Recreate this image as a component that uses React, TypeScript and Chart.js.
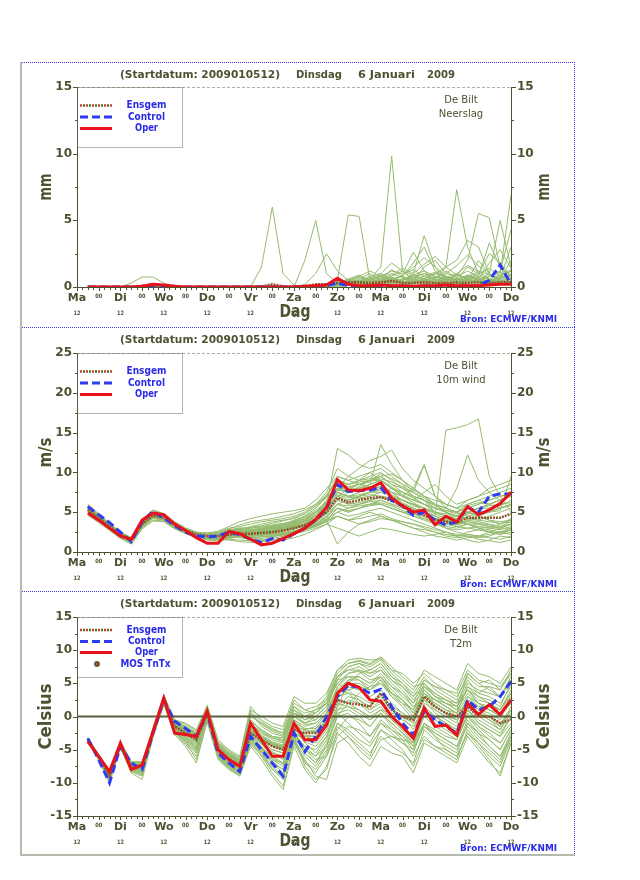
import React, { useEffect, useRef } from "react";
import { Chart, registerables } from "chart.js";

Chart.register(...registerables);

// ---------------- data ----------------
const HOURS = [6, 12, 18, 24, 30, 36, 42, 48, 54, 60, 66, 72, 78, 84, 90, 96, 102, 108, 114, 120, 126, 132, 138, 144, 150, 156, 162, 168, 174, 180, 186, 192, 198, 204, 210, 216, 222, 228, 234, 240];
const DAY_NAMES = ["Ma", "Di", "Wo", "Do", "Vr", "Za", "Zo", "Ma", "Di", "Wo", "Do"];
const TITLE_PARTS = ["(Startdatum: 2009010512)", "Dinsdag", "6 Januari", "2009"];
const SOURCE = "Bron: ECMWF/KNMI";
const X_TITLE = "Dag";
const LEGEND_LABELS = ["Ensgem", "Control", "Oper"];
const MOS_LABEL = "MOS TnTx";

const PRECIP_TICKS = [0, 5, 10, 15];
const WIND_TICKS = [0, 5, 10, 15, 20, 25];
const T2M_TICKS = [-15, -10, -5, 0, 5, 10, 15];

const PRECIP_OPER = [0, 0, 0, 0, 0, 0.05, 0.2, 0.15, 0.05, 0, 0, 0, 0, 0, 0, 0, 0, 0, 0, 0, 0.05, 0.1, 0.15, 0.65, 0.2, 0.1, 0.1, 0.15, 0.1, 0.1, 0.05, 0.1, 0.1, 0.15, 0.1, 0.1, 0.1, 0.15, 0.2, 0.2];
const PRECIP_CONTROL = [0, 0, 0, 0, 0, 0.05, 0.15, 0.1, 0.05, 0, 0, 0, 0, 0, 0, 0, 0, 0, 0, 0, 0, 0.05, 0.1, 0.3, 0.1, 0.05, 0.05, 0.1, 0.05, 0.05, 0, 0.05, 0.05, 0.05, 0.05, 0.1, 0.1, 0.5, 1.65, 0.2];
const PRECIP_ENSGEM = [0, 0, 0, 0, 0.02, 0.08, 0.12, 0.1, 0.03, 0, 0, 0, 0, 0, 0, 0, 0.05, 0.2, 0.05, 0, 0.05, 0.2, 0.2, 0.3, 0.35, 0.35, 0.3, 0.35, 0.45, 0.3, 0.3, 0.35, 0.3, 0.3, 0.35, 0.3, 0.35, 0.3, 0.35, 0.35];
const PRECIP_MEMBERS = [
  [0, 0, 0, 0, 0, 0, 0, 0, 0, 0, 0, 0, 0, 0, 0, 0, 1.5, 6.0, 1.0, 0.15, 0, 0.1, 0.2, 0.3, 0.2, 0.1, 0.3, 0.5, 0.2, 0.1, 0.3, 0.6, 0.2, 0.1, 0.2, 0.4, 0.3, 0.1, 0.2, 0.5],
  [0, 0, 0, 0, 0, 0, 0, 0, 0, 0, 0, 0, 0, 0, 0, 0, 0, 0, 0, 0, 2.0, 5.0, 1.0, 0.3, 0.5, 0.2, 0.1, 0.3, 0.6, 0.8, 0.4, 0.2, 0.1, 0.5, 1.0, 0.6, 0.3, 0.2, 0.4, 0.3],
  [0, 0, 0, 0, 0, 0, 0, 0, 0, 0, 0, 0, 0, 0, 0, 0, 0, 0, 0, 0, 0, 0.1, 0.2, 0.5, 5.4, 5.3, 0.5, 0.2, 0.4, 0.3, 0.1, 0.2, 0.5, 0.8, 0.3, 0.2, 0.1, 0.3, 0.5, 0.2],
  [0, 0, 0, 0, 0, 0, 0, 0, 0, 0, 0, 0, 0, 0, 0, 0, 0, 0, 0, 0, 0, 0, 0.1, 0.2, 0.3, 0.4, 0.6, 1.5, 9.8, 1.2, 0.5, 0.3, 0.8, 0.4, 0.2, 0.3, 0.6, 0.4, 0.2, 0.3],
  [0, 0, 0, 0, 0, 0, 0, 0, 0, 0, 0, 0, 0, 0, 0, 0, 0, 0, 0, 0, 0, 0, 0, 0.1, 0.2, 0.3, 0.2, 0.4, 0.3, 0.5, 0.8, 1.0, 0.6, 1.5, 7.3, 3.0, 1.0, 0.5, 0.3, 0.6],
  [0, 0, 0, 0, 0, 0, 0, 0, 0, 0, 0, 0, 0, 0, 0, 0, 0, 0, 0, 0, 0, 0, 0, 0.2, 0.3, 0.2, 0.5, 0.3, 0.6, 0.4, 0.3, 0.5, 0.8, 0.6, 0.8, 2.0, 5.5, 5.2, 1.5, 0.5],
  [0, 0, 0, 0, 0, 0, 0, 0, 0, 0, 0, 0, 0, 0, 0, 0, 0, 0, 0, 0, 0, 0, 0.1, 0.3, 0.2, 0.5, 0.4, 0.2, 0.3, 0.6, 0.4, 0.3, 0.2, 0.4, 0.6, 0.8, 0.5, 1.0, 5.0, 1.5],
  [0, 0, 0, 0, 0, 0, 0, 0, 0, 0, 0, 0, 0, 0, 0, 0, 0, 0, 0, 0, 0, 0, 0, 0.1, 0.3, 0.2, 0.1, 0.3, 0.5, 0.3, 0.2, 0.6, 0.4, 0.2, 0.3, 0.5, 0.4, 0.3, 1.0, 6.9],
  [0, 0, 0, 0, 0, 0, 0, 0, 0, 0, 0, 0, 0, 0, 0, 0, 0, 0, 0, 0, 0, 0.1, 0.2, 0.4, 0.3, 0.2, 0.5, 0.8, 0.6, 0.5, 1.0, 3.85, 1.5, 0.6, 0.3, 0.5, 0.8, 0.6, 0.4, 0.3],
  [0, 0, 0, 0, 0, 0, 0, 0, 0, 0, 0, 0, 0, 0, 0, 0, 0, 0, 0, 0, 0.2, 1.0, 2.5, 1.2, 0.5, 0.3, 0.2, 0.4, 0.3, 0.2, 0.5, 0.3, 0.6, 0.4, 0.2, 0.3, 0.5, 0.2, 0.4, 0.6],
  [0, 0, 0, 0, 0, 0, 0, 0, 0, 0, 0, 0, 0, 0, 0, 0, 0, 0, 0, 0, 0, 0, 0, 0.2, 0.4, 0.3, 0.6, 0.8, 1.2, 1.0, 2.6, 1.2, 0.8, 0.5, 0.6, 0.4, 0.3, 0.6, 0.5, 0.4],
  [0, 0, 0, 0, 0.3, 0.75, 0.75, 0.3, 0, 0, 0, 0, 0, 0, 0, 0, 0, 0, 0, 0, 0, 0, 0, 0.2, 0.3, 0.5, 0.3, 0.6, 0.5, 0.4, 0.3, 0.5, 0.4, 0.8, 0.6, 1.5, 1.0, 2.5, 1.8, 0.8],
  [0, 0, 0, 0, 0, 0, 0, 0, 0, 0, 0, 0, 0, 0, 0, 0, 0, 0, 0, 0, 0, 0, 0, 0.1, 0.2, 0.4, 0.8, 1.0, 0.6, 0.8, 1.8, 3.0, 1.2, 0.8, 0.5, 0.6, 0.4, 0.8, 1.2, 4.3],
  [0, 0, 0, 0, 0, 0, 0, 0, 0, 0, 0, 0, 0, 0, 0, 0, 0, 0, 0, 0, 0, 0, 0, 0.1, 0.3, 0.6, 1.0, 0.5, 0.8, 1.2, 0.9, 0.6, 1.0, 1.5, 2.0, 3.5, 3.0, 1.0, 0.6, 3.0],
  [0, 0, 0, 0, 0, 0, 0, 0, 0, 0, 0, 0, 0, 0, 0, 0, 0, 0, 0, 0, 0, 0, 0.1, 0.3, 0.5, 0.8, 0.4, 0.6, 1.3, 0.8, 0.5, 1.5, 2.0, 1.0, 0.8, 1.2, 0.8, 3.3, 1.5, 0.8],
  [0, 0, 0, 0, 0, 0, 0, 0, 0, 0, 0, 0, 0, 0, 0, 0, 0, 0, 0, 0, 0, 0, 0, 0.2, 0.6, 0.9, 0.5, 0.3, 0.5, 0.9, 1.3, 0.8, 0.5, 0.3, 0.4, 0.7, 1.2, 0.9, 0.5, 1.0],
  [0, 0, 0, 0, 0, 0, 0, 0, 0, 0, 0, 0, 0, 0, 0, 0, 0, 0, 0, 0, 0, 0, 0, 0, 0.1, 0.3, 0.6, 0.8, 1.0, 0.7, 0.4, 0.6, 1.0, 0.7, 0.5, 0.8, 0.6, 0.4, 0.8, 1.2],
  [0, 0, 0, 0, 0, 0, 0, 0, 0, 0, 0, 0, 0, 0, 0, 0, 0, 0, 0, 0, 0, 0, 0, 0.1, 0.2, 0.2, 0.3, 0.5, 0.3, 0.6, 0.4, 0.8, 0.6, 1.2, 0.7, 0.5, 2.0, 1.0, 0.5, 0.4],
  [0, 0, 0, 0, 0, 0, 0, 0, 0, 0, 0, 0, 0, 0, 0, 0, 0, 0, 0, 0, 0, 0, 0, 0.1, 0.4, 0.3, 0.2, 0.4, 0.7, 0.5, 0.9, 1.2, 0.5, 0.4, 0.9, 0.6, 0.3, 0.5, 0.7, 0.9],
  [0, 0, 0, 0, 0, 0, 0, 0, 0, 0, 0, 0, 0, 0, 0, 0, 0, 0, 0, 0, 0, 0, 0, 0.2, 0.3, 0.4, 0.5, 0.7, 0.4, 0.3, 0.6, 0.4, 0.3, 0.6, 0.5, 0.9, 0.7, 0.4, 0.6, 2.0],
  [0, 0, 0, 0, 0, 0, 0, 0, 0, 0, 0, 0, 0, 0, 0, 0, 0, 0, 0, 0, 0, 0, 0.1, 0.2, 0.5, 0.8, 1.2, 0.8, 0.5, 0.9, 1.5, 2.2, 1.5, 0.8, 0.5, 0.6, 1.0, 1.4, 0.8, 0.5],
  [0, 0, 0, 0, 0, 0, 0, 0, 0, 0, 0, 0, 0, 0, 0, 0, 0, 0, 0, 0, 0, 0.05, 0.2, 0.4, 0.3, 0.5, 0.7, 1.0, 1.8, 1.2, 0.6, 0.8, 1.1, 0.7, 1.0, 1.6, 1.2, 0.6, 0.9, 1.3],
  [0, 0, 0, 0, 0, 0, 0, 0, 0, 0, 0, 0, 0, 0, 0, 0, 0, 0, 0, 0, 0, 0, 0, 0.1, 0.3, 0.2, 0.4, 0.6, 0.9, 1.4, 1.0, 1.7, 2.3, 1.5, 0.9, 0.7, 0.5, 0.8, 1.1, 0.7],
  [0, 0, 0, 0, 0, 0, 0, 0, 0, 0, 0, 0, 0, 0, 0, 0, 0, 0, 0, 0, 0, 0, 0.1, 0.3, 0.6, 0.4, 0.3, 0.5, 0.4, 0.6, 0.8, 0.5, 0.7, 1.0, 1.6, 2.4, 1.6, 0.9, 0.6, 1.2],
  [0, 0, 0, 0, 0, 0, 0, 0, 0, 0, 0, 0, 0, 0, 0, 0, 0, 0, 0, 0, 0, 0, 0, 0.2, 0.4, 0.7, 0.5, 0.9, 0.7, 0.5, 0.7, 1.0, 0.8, 0.6, 0.5, 0.9, 0.6, 1.8, 2.8, 1.4],
  [0, 0, 0, 0, 0, 0, 0, 0, 0, 0, 0, 0, 0, 0, 0, 0, 0, 0, 0, 0, 0, 0, 0.05, 0.15, 0.2, 0.3, 0.2, 0.3, 0.5, 0.4, 0.3, 0.5, 0.3, 0.4, 0.6, 0.4, 0.5, 0.3, 0.5, 0.6],
];

const WIND_OPER = [4.9, 4.0, 3.0, 2.0, 1.6, 4.0, 4.9, 4.7, 3.5, 2.7, 1.8, 1.1, 1.1, 2.6, 2.3, 1.6, 0.9, 1.1, 1.7, 2.3, 3.0, 4.1, 5.6, 9.1, 7.8, 7.7, 8.0, 8.7, 6.8, 5.8, 5.0, 5.3, 3.4, 4.5, 3.8, 5.7, 4.7, 5.3, 6.1, 7.5];
const WIND_CONTROL = [5.7, 4.7, 3.7, 2.5, 1.3, 3.8, 5.1, 4.3, 3.3, 2.5, 2.0, 1.9, 2.0, 2.5, 2.2, 1.6, 1.2, 1.7, 1.5, 2.3, 3.0, 4.0, 5.5, 8.5, 7.6, 7.7, 7.8, 8.1, 6.5, 5.8, 4.6, 5.0, 4.0, 3.4, 3.8, 5.6, 5.0, 7.0, 7.3, 7.3];
const WIND_ENSGEM = [5.3, 4.3, 3.2, 2.2, 1.5, 3.5, 4.6, 4.3, 3.4, 2.7, 2.2, 2.0, 2.0, 2.2, 2.3, 2.3, 2.4, 2.5, 2.7, 3.0, 3.4, 4.0, 5.0, 6.8, 6.2, 6.5, 6.8, 6.9, 6.4, 5.8, 5.2, 4.6, 4.1, 3.8, 3.7, 4.3, 4.3, 4.3, 4.3, 4.8];
const WIND_MEMBERS = [
  [5.5, 4.5, 3.3, 2.3, 1.6, 3.7, 4.8, 4.5, 3.5, 2.8, 2.3, 2.0, 2.2, 2.5, 2.6, 2.5, 2.6, 2.8, 3.0, 3.5, 4.0, 5.0, 6.5, 8.5, 7.8, 8.0, 8.2, 8.5, 7.5, 6.5, 5.8, 5.5, 4.5, 4.0, 4.2, 5.0, 5.5, 5.5, 5.8, 6.5],
  [5.0, 4.0, 3.0, 2.0, 1.3, 3.2, 4.3, 4.1, 3.2, 2.5, 2.0, 1.8, 1.6, 1.5, 1.3, 1.2, 1.3, 1.5, 1.8, 2.2, 2.8, 3.5, 4.5, 6.0, 5.5, 5.8, 6.0, 6.0, 5.5, 5.0, 4.5, 4.0, 3.5, 3.0, 2.8, 3.0, 3.2, 3.0, 2.8, 3.2],
  [6.0, 4.8, 3.6, 2.5, 1.8, 4.0, 5.2, 4.8, 3.8, 3.0, 2.5, 2.3, 2.5, 3.0, 3.2, 3.5, 3.8, 4.0, 4.2, 4.5, 5.0, 6.0, 7.5, 10.5, 9.5, 9.0, 9.5, 10.0, 9.0, 8.0, 7.0, 6.5, 5.5, 5.0, 4.5, 5.5, 6.0, 6.5, 7.0, 7.5],
  [5.2, 4.2, 3.1, 2.1, 1.5, 3.4, 4.5, 4.2, 3.3, 2.6, 2.1, 1.9, 1.8, 2.0, 2.0, 1.8, 1.5, 1.2, 1.5, 1.8, 2.2, 2.8, 3.5, 4.5, 4.0, 4.5, 5.0, 4.5, 4.0, 3.5, 3.0, 2.8, 2.5, 2.2, 2.0, 2.5, 2.8, 2.5, 2.2, 2.8],
  [5.8, 4.6, 3.5, 2.4, 1.7, 3.8, 5.0, 4.6, 3.6, 2.9, 2.4, 2.1, 2.3, 2.8, 3.0, 2.8, 2.9, 3.2, 3.5, 4.0, 4.5, 5.5, 7.0, 9.0, 8.5, 9.0, 9.2, 9.5, 8.5, 7.5, 7.0, 6.5, 5.8, 5.2, 5.0, 5.8, 6.2, 6.0, 6.5, 7.0],
  [4.8, 3.8, 2.8, 1.8, 1.0, 3.0, 4.0, 3.9, 3.0, 2.4, 1.9, 1.6, 1.5, 1.8, 2.2, 2.5, 2.8, 3.0, 3.2, 3.5, 3.8, 4.2, 5.0, 6.5, 6.0, 6.2, 6.5, 6.8, 6.5, 6.0, 5.5, 5.0, 4.5, 4.0, 3.5, 3.8, 3.5, 3.2, 3.0, 3.5],
  [5.4, 4.4, 3.2, 2.2, 1.4, 3.6, 4.7, 4.4, 3.4, 2.7, 2.2, 2.0, 2.0, 2.3, 2.5, 2.3, 2.2, 2.4, 2.6, 3.0, 3.5, 4.5, 6.0, 13.0, 12.2, 11.0, 10.5, 11.0, 10.0, 9.0, 8.0, 7.0, 6.0, 5.5, 5.0, 6.0, 6.5, 6.0, 5.5, 6.0],
  [5.6, 4.5, 3.4, 2.3, 1.7, 3.7, 4.8, 4.5, 3.5, 2.8, 2.3, 2.1, 2.1, 2.5, 2.8, 3.2, 3.5, 3.8, 4.0, 4.2, 4.8, 5.8, 6.8, 8.0, 9.5, 10.5, 11.5, 12.0, 12.8, 10.5, 9.0, 8.0, 7.0, 6.0, 5.5, 6.5, 7.0, 7.5, 8.0, 8.5],
  [5.1, 4.1, 3.0, 2.0, 1.3, 3.3, 4.4, 4.2, 3.3, 2.6, 2.1, 1.9, 1.9, 2.1, 2.1, 2.0, 2.1, 2.2, 2.4, 2.7, 3.0, 3.5, 4.2, 5.0, 4.5, 4.8, 5.2, 5.5, 5.0, 4.5, 4.0, 3.5, 3.0, 2.5, 2.0, 2.2, 2.0, 1.8, 1.6, 2.0],
  [5.3, 4.3, 3.2, 2.2, 1.5, 3.5, 4.6, 4.3, 3.4, 2.7, 2.2, 2.0, 2.0, 2.2, 2.3, 2.2, 2.4, 2.6, 2.8, 3.2, 3.6, 4.2, 5.2, 7.0, 6.5, 7.0, 7.5, 7.8, 7.0, 6.5, 6.0, 5.0, 4.5, 15.3, 15.6, 16.0, 16.7, 9.5, 7.0, 5.0],
  [5.0, 4.1, 3.1, 2.1, 1.4, 3.3, 4.4, 4.0, 3.1, 2.4, 2.0, 1.7, 1.7, 1.9, 1.8, 1.6, 1.7, 1.9, 2.2, 2.5, 3.0, 3.8, 5.0, 7.5, 7.0, 7.5, 8.5, 13.5, 11.0, 9.0, 7.5, 6.5, 5.0, 4.5, 4.5, 5.0, 4.5, 4.0, 3.5, 4.0],
  [5.7, 4.6, 3.5, 2.4, 1.7, 3.9, 5.0, 4.6, 3.6, 2.9, 2.4, 2.2, 2.3, 2.6, 2.9, 3.0, 3.2, 3.4, 3.6, 3.8, 4.2, 5.0, 6.0, 8.0, 7.5, 7.8, 8.0, 8.2, 7.5, 7.0, 8.0, 11.0, 7.0, 5.5, 8.0, 12.2, 9.0, 7.5, 6.5, 7.0],
  [5.2, 4.2, 3.1, 2.1, 1.5, 3.4, 4.5, 4.2, 3.3, 2.6, 2.1, 1.9, 1.9, 2.1, 2.2, 2.1, 2.0, 2.0, 2.1, 2.3, 2.6, 3.0, 3.5, 3.0, 2.5, 2.0, 2.5, 3.0, 2.8, 2.5, 2.2, 2.0, 2.2, 2.5, 2.0, 1.5, 1.2, 1.5, 2.0, 1.8],
  [5.5, 4.4, 3.3, 2.3, 1.6, 3.6, 4.7, 4.4, 3.5, 2.8, 2.3, 2.1, 2.1, 2.4, 2.6, 2.5, 2.7, 3.0, 3.3, 3.6, 4.0, 4.8, 6.0, 7.5, 7.0, 7.2, 7.5, 7.5, 7.0, 6.2, 5.5, 5.0, 4.2, 3.8, 3.5, 4.0, 3.8, 3.5, 3.2, 3.8],
  [4.6, 3.7, 2.7, 1.7, 1.0, 2.9, 3.9, 3.8, 2.9, 2.3, 1.8, 1.5, 1.4, 1.6, 1.5, 1.4, 1.5, 1.7, 2.0, 2.4, 2.8, 3.3, 4.0, 5.5, 5.0, 5.5, 6.0, 6.2, 5.8, 5.2, 4.8, 4.2, 3.6, 3.2, 3.0, 3.5, 3.5, 3.2, 3.0, 3.0],
  [5.9, 4.7, 3.6, 2.5, 1.8, 4.0, 5.3, 4.8, 3.8, 3.0, 2.5, 2.4, 2.6, 3.2, 3.8, 4.2, 4.5, 4.8, 5.0, 5.2, 5.5, 6.5, 8.0, 9.5, 9.0, 8.5, 9.0, 9.0, 8.0, 7.5, 6.8, 6.0, 5.5, 5.2, 4.8, 5.0, 5.5, 5.8, 6.0, 6.2],
  [5.3, 4.3, 3.2, 2.2, 1.5, 3.5, 4.6, 4.3, 3.4, 2.7, 2.2, 2.0, 2.0, 2.2, 2.4, 2.3, 2.3, 2.5, 2.7, 3.0, 3.3, 3.8, 4.5, 5.5, 5.0, 5.5, 6.0, 6.5, 6.0, 5.5, 5.0, 4.5, 3.8, 3.5, 3.2, 3.5, 3.0, 2.5, 2.2, 2.5],
  [5.4, 4.3, 3.3, 2.2, 1.6, 3.5, 4.6, 4.4, 3.4, 2.8, 2.3, 2.0, 2.1, 2.3, 2.4, 2.4, 2.5, 2.7, 2.9, 3.3, 3.8, 4.5, 5.5, 7.8, 7.5, 8.0, 8.5, 9.0, 8.0, 7.0, 6.5, 6.0, 5.0, 4.5, 4.2, 4.8, 5.0, 5.2, 5.5, 5.8],
  [5.0, 4.0, 2.9, 1.9, 1.2, 3.1, 4.2, 4.0, 3.1, 2.5, 2.0, 1.7, 1.8, 2.0, 2.0, 1.9, 1.9, 2.0, 2.2, 2.5, 2.8, 3.2, 3.8, 4.5, 4.0, 4.2, 4.5, 4.8, 4.2, 3.8, 3.5, 3.0, 2.5, 2.0, 1.8, 2.0, 1.6, 1.4, 1.2, 1.5],
  [5.6, 4.5, 3.4, 2.3, 1.6, 3.7, 4.8, 4.5, 3.5, 2.8, 2.3, 2.1, 2.2, 2.4, 2.7, 2.8, 3.0, 3.2, 3.4, 3.7, 4.2, 5.0, 6.2, 8.5, 8.0, 8.5, 8.8, 9.5, 8.5, 8.0, 7.5, 6.8, 6.0, 5.5, 5.0, 5.5, 6.0, 6.5, 7.0, 7.2],
  [5.2, 4.1, 3.1, 2.1, 1.4, 3.4, 4.5, 4.2, 3.3, 2.6, 2.1, 1.9, 1.9, 2.1, 2.2, 2.3, 2.5, 2.6, 2.7, 2.9, 3.2, 3.6, 4.3, 6.0, 5.8, 6.0, 6.3, 6.5, 6.0, 5.5, 5.2, 4.8, 4.0, 3.6, 3.4, 3.8, 3.6, 3.4, 3.2, 3.5],
  [5.5, 4.4, 3.3, 2.3, 1.6, 3.6, 4.7, 4.4, 3.4, 2.7, 2.2, 2.0, 2.0, 2.2, 2.3, 2.2, 2.3, 2.4, 2.6, 2.9, 3.4, 4.2, 5.5, 7.2, 6.8, 7.0, 7.2, 7.0, 6.5, 6.0, 5.5, 5.0, 4.2, 4.0, 3.8, 4.5, 4.8, 5.0, 5.2, 9.5],
  [5.1, 4.1, 3.0, 2.0, 1.3, 3.2, 4.3, 4.1, 3.2, 2.6, 2.1, 1.8, 1.8, 2.0, 2.1, 2.0, 2.2, 2.3, 2.4, 2.6, 2.9, 3.3, 4.0, 1.0, 2.5, 3.5, 4.0, 4.5, 4.0, 3.5, 3.0, 2.5, 2.0, 1.8, 1.5, 1.8, 2.0, 2.2, 2.5, 2.8],
  [5.7, 4.6, 3.5, 2.4, 1.7, 3.8, 5.0, 4.6, 3.6, 2.9, 2.4, 2.2, 2.3, 2.7, 3.0, 3.1, 3.3, 3.6, 3.9, 4.3, 4.8, 5.8, 7.2, 9.0, 8.5, 8.8, 9.0, 9.2, 8.8, 8.2, 7.5, 10.9, 7.0, 6.0, 5.5, 6.0, 6.5, 7.0, 7.5, 8.0],
  [5.4, 4.4, 3.3, 2.2, 1.5, 3.6, 4.8, 4.5, 3.6, 2.9, 2.4, 2.2, 2.4, 2.9, 3.4, 3.8, 4.0, 4.2, 4.5, 4.8, 5.3, 6.0, 7.0, 8.0, 8.5, 9.0, 10.0, 10.5, 9.5, 8.5, 7.0, 6.5, 6.0, 5.0, 4.5, 4.0, 4.5, 5.0, 5.5, 6.0],
  [5.0, 4.0, 3.0, 2.0, 1.2, 3.2, 4.4, 4.1, 3.2, 2.5, 2.0, 1.7, 1.6, 1.7, 1.9, 2.2, 2.5, 2.8, 3.0, 3.3, 3.8, 4.5, 5.5, 7.0, 6.5, 6.8, 7.0, 7.5, 8.0, 7.5, 6.8, 6.0, 5.0, 4.5, 4.0, 4.8, 5.5, 6.0, 6.5, 7.0],
  [5.6, 4.5, 3.4, 2.3, 1.6, 3.7, 4.9, 4.5, 3.5, 2.8, 2.3, 2.1, 2.2, 2.6, 2.9, 3.0, 3.1, 3.3, 3.5, 3.9, 4.4, 5.2, 6.3, 7.5, 7.0, 6.8, 6.5, 6.0, 5.5, 5.0, 4.5, 4.2, 3.8, 3.0, 2.5, 2.2, 2.0, 2.5, 3.0, 3.5],
  [5.3, 4.2, 3.2, 2.1, 1.5, 3.5, 4.6, 4.3, 3.4, 2.7, 2.2, 1.9, 1.9, 2.2, 2.4, 2.5, 2.7, 2.9, 3.0, 3.2, 3.5, 4.0, 4.8, 6.5, 7.5, 8.2, 9.0, 9.8, 9.2, 8.5, 7.8, 7.0, 6.5, 6.0, 5.5, 5.0, 4.5, 4.0, 3.8, 4.0],
  [5.5, 4.4, 3.3, 2.3, 1.6, 3.6, 4.7, 4.4, 3.5, 2.8, 2.3, 2.0, 2.1, 2.4, 2.5, 2.6, 2.8, 3.0, 3.1, 3.4, 3.9, 4.6, 5.8, 7.8, 8.2, 8.5, 8.2, 8.0, 7.2, 6.5, 6.0, 5.5, 4.8, 4.2, 3.8, 3.5, 3.2, 3.0, 3.5, 4.2],
  [5.2, 4.2, 3.1, 2.1, 1.4, 3.4, 4.5, 4.2, 3.3, 2.6, 2.1, 1.8, 1.8, 2.0, 2.1, 2.0, 2.1, 2.2, 2.3, 2.5, 2.8, 3.2, 3.8, 5.0, 5.5, 6.0, 6.5, 7.0, 6.8, 6.5, 6.0, 5.5, 5.0, 4.5, 4.0, 3.5, 3.0, 2.8, 2.5, 2.2],
  [5.8, 4.6, 3.5, 2.4, 1.7, 3.8, 5.0, 4.6, 3.6, 2.9, 2.4, 2.2, 2.3, 2.6, 2.8, 2.7, 2.8, 3.0, 3.3, 3.8, 4.5, 5.5, 7.0, 9.5, 9.0, 9.5, 10.0, 9.0, 8.0, 7.0, 6.5, 7.5, 8.5, 7.0, 6.0, 6.5, 7.0, 8.0, 8.5, 9.0],
  [5.1, 4.1, 3.1, 2.0, 1.4, 3.3, 4.4, 4.1, 3.2, 2.5, 2.0, 1.8, 1.7, 1.8, 1.9, 1.8, 1.9, 2.1, 2.3, 2.6, 3.0, 3.4, 4.0, 5.5, 5.2, 5.5, 5.8, 6.0, 5.5, 5.0, 4.8, 4.5, 4.0, 3.8, 3.2, 3.0, 2.8, 2.6, 2.4, 2.8],
  [5.5, 4.5, 3.4, 2.3, 1.6, 3.6, 4.7, 4.4, 3.5, 2.8, 2.3, 2.1, 2.2, 2.5, 2.7, 2.7, 2.9, 3.1, 3.3, 3.7, 4.2, 5.0, 6.0, 7.0, 7.8, 8.5, 9.0, 9.5, 9.8, 9.0, 8.0, 7.0, 6.0, 5.5, 5.0, 4.5, 4.0, 4.5, 5.0, 5.5],
  [5.0, 4.0, 3.0, 1.9, 1.3, 3.2, 4.3, 4.0, 3.1, 2.4, 1.9, 1.7, 1.6, 1.8, 2.0, 2.1, 2.2, 2.3, 2.4, 2.6, 2.9, 3.3, 4.0, 4.5, 4.0, 3.5, 3.8, 4.2, 4.0, 3.8, 3.5, 3.2, 2.8, 2.5, 2.2, 2.0, 1.8, 2.0, 2.5, 3.0],
  [5.6, 4.5, 3.4, 2.3, 1.6, 3.7, 4.8, 4.5, 3.5, 2.8, 2.3, 2.1, 2.1, 2.4, 2.6, 2.6, 2.7, 2.9, 3.1, 3.4, 3.9, 4.6, 5.8, 8.0, 7.8, 8.0, 8.5, 9.0, 8.2, 7.2, 6.5, 6.0, 5.5, 5.0, 4.5, 5.0, 5.5, 6.0, 6.5, 7.0],
  [5.3, 4.3, 3.2, 2.2, 1.5, 3.5, 4.6, 4.3, 3.4, 2.7, 2.2, 2.0, 2.0, 2.3, 2.5, 2.4, 2.5, 2.7, 2.8, 3.1, 3.5, 4.0, 4.8, 6.0, 6.5, 7.0, 7.5, 8.0, 7.5, 7.0, 6.2, 5.5, 5.0, 4.8, 4.5, 4.2, 4.0, 3.8, 3.6, 3.8],
];

const T2M_OPER = [-3.8, -6.0, -8.3, -4.0, -8.0, -7.3, -2.3, 2.8, -2.5, -2.7, -3.0, 0.8, -5.0, -6.5, -7.5, -1.0, -3.5, -6.0, -6.0, -1.0, -3.5, -3.5, -1.3, 3.5, 5.0, 4.4, 2.5, 2.3, 0.0, -1.5, -3.3, 1.3, -1.5, -1.3, -2.8, 2.0, 0.3, 1.8, 0.3, 2.5];
const T2M_CONTROL = [-3.3, -6.5, -10.0, -4.5, -7.0, -8.0, -2.5, 2.5, -0.7, -1.8, -3.0, 0.5, -5.5, -7.0, -8.3, -3.0, -5.0, -7.0, -9.0, -2.5, -5.3, -3.0, 0.0, 3.0, 4.7, 4.4, 3.5, 4.1, 1.5, -1.0, -2.8, 0.8, -0.5, -1.5, -2.5, 2.5, 1.0, 1.5, 3.0, 5.3];
const T2M_ENSGEM = [-3.5, -6.0, -9.0, -4.5, -7.5, -7.5, -2.5, 2.5, -1.5, -2.5, -3.5, 0.5, -5.0, -6.5, -7.5, -2.5, -3.5, -4.5, -5.0, -2.0, -2.5, -2.5, -1.0, 2.5, 2.0, 1.8, 1.5, 3.5, 1.0, 0.0, -0.5, 3.0, 1.5, 0.5, 0.0, 1.5, 0.0, 0.0, -1.0, -0.5];
const T2M_MEMBERS = [
  [-3.4, -6.0, -8.8, -4.1, -7.2, -7.5, -2.2, 2.6, -1.2, -2.0, -3.2, 0.9, -4.6, -6.0, -7.0, -1.8, -3.0, -4.0, -4.8, -1.5, -2.0, -1.5, 0.5, 4.5, 6.5, 6.8, 5.5, 6.0, 4.0, 2.5, 0.5, 3.5, 2.0, 1.0, 0.5, 3.0, 1.5, 1.0, 0.5, 2.0],
  [-3.6, -6.4, -9.4, -4.5, -7.8, -8.2, -2.8, 2.2, -2.0, -3.0, -4.5, 0.2, -5.5, -7.2, -8.5, -3.5, -5.0, -7.0, -8.5, -3.5, -6.0, -7.5, -5.0, -1.0, -2.5, -4.0, -5.5, -3.0, -4.5, -5.5, -7.0, -2.0, -3.5, -4.5, -5.5, -1.0, -3.0, -4.5, -6.0, -3.0],
  [-3.3, -5.8, -8.5, -3.9, -7.0, -7.0, -2.0, 3.0, -0.8, -1.5, -2.5, 1.3, -4.0, -5.5, -6.5, 0.5, -1.5, -2.5, -3.0, 1.0, -0.5, 0.0, 1.5, 5.5, 7.5, 8.0, 7.5, 8.5, 6.5, 5.0, 3.5, 6.0, 4.0, 3.0, 2.0, 5.5, 3.5, 4.5, 3.0, 6.0],
  [-3.7, -6.5, -9.8, -4.6, -8.2, -8.8, -3.0, 2.0, -2.5, -3.5, -5.0, -0.5, -6.0, -7.8, -8.8, -4.0, -6.0, -8.5, -10.5, -4.0, -7.0, -8.5, -6.0, -2.5, -4.0, -6.0, -7.5, -4.5, -5.5, -6.0, -8.5, -4.0, -5.0, -6.0, -7.0, -3.0, -5.0, -7.0, -8.5, -4.0],
  [-3.5, -6.1, -9.0, -4.2, -7.6, -7.8, -2.5, 2.5, -1.8, -2.5, -3.5, 0.5, -5.0, -6.5, -7.5, -2.5, -3.5, -4.5, -5.0, -2.0, -2.5, -2.0, 0.0, 3.5, 4.5, 4.0, 3.0, 4.0, 2.0, 0.5, -1.0, 2.5, 0.5, -0.5, -1.5, 1.5, 0.0, -1.0, -2.0, 0.5],
  [-3.2, -5.7, -8.2, -3.7, -6.8, -6.8, -1.8, 3.2, -0.5, -1.0, -2.0, 1.7, -3.5, -5.0, -6.0, 1.5, -0.5, -1.5, -2.0, 2.5, 1.0, 0.5, 2.5, 6.5, 8.0, 8.5, 8.0, 9.0, 7.5, 6.0, 4.5, 5.0, 3.0, 2.5, 1.5, 4.0, 2.0, 1.5, 1.0, 4.0],
  [-3.6, -6.3, -9.2, -4.4, -7.9, -8.0, -2.6, 2.4, -2.2, -3.8, -6.5, -0.8, -6.5, -8.0, -9.0, -4.5, -6.5, -9.0, -11.0, -4.5, -8.0, -10.0, -7.5, -3.0, -1.5, -2.0, -3.0, -1.0, -2.5, -4.0, -5.5, -1.0, -2.0, -3.0, -3.5, 0.5, -1.5, -3.0, -4.0, -1.5],
  [-3.4, -5.9, -8.7, -4.0, -7.3, -7.4, -2.3, 2.7, -1.0, -1.8, -2.8, 1.0, -4.3, -5.8, -6.8, -0.5, -2.0, -3.0, -3.5, 0.5, -1.0, -0.5, 1.0, 4.0, 5.5, 5.5, 4.5, 5.0, 3.0, 2.0, 0.0, 4.5, 3.0, 2.0, 1.0, 6.5, 5.0, 5.5, 4.0, 7.0],
  [-3.8, -6.6, -10.0, -4.7, -8.5, -9.5, -3.2, 1.8, -2.8, -4.2, -6.0, -0.3, -6.2, -7.5, -8.2, -3.0, -4.5, -6.5, -7.5, -2.5, -5.0, -6.0, -3.5, 1.0, 2.5, 2.0, 1.0, 2.0, 0.0, -2.0, -4.0, 0.0, -1.5, -2.5, -3.5, 0.0, -2.0, -3.5, -5.0, -2.0],
  [-3.3, -5.9, -8.6, -4.0, -7.1, -7.2, -2.1, 2.9, -1.0, -1.6, -2.6, 1.4, -4.2, -5.6, -6.6, 0.0, -1.0, -2.0, -2.5, 1.5, 0.5, 1.0, 2.0, 5.0, 6.5, 7.0, 6.0, 7.0, 5.0, 3.5, 1.5, 3.0, 1.0, 0.0, -0.5, 2.5, 1.0, 0.5, -0.5, 3.0],
  [-3.5, -6.2, -9.1, -4.3, -7.6, -7.9, -2.5, 2.5, -2.0, -3.2, -4.8, 0.0, -5.5, -7.0, -8.0, -3.0, -4.0, -5.5, -6.5, -3.0, -4.5, -5.0, -3.0, 0.5, -1.0, -2.5, -4.0, -1.0, -2.0, -3.0, -4.5, 1.0, 0.0, -1.0, -2.5, 2.0, 0.5, -0.5, -2.0, 1.0],
  [-3.6, -6.3, -9.3, -4.4, -7.7, -8.1, -2.7, 2.3, -1.5, -2.2, -3.0, 0.6, -4.8, -6.2, -7.2, -2.0, -3.0, -4.0, -4.5, -0.5, -1.5, -1.0, 0.5, 4.0, 3.5, 2.0, 0.5, 1.5, -0.5, -2.0, -3.0, 2.0, 1.0, 0.0, -1.0, 3.0, 2.0, 1.0, 0.0, 2.5],
  [-3.4, -6.0, -8.9, -4.2, -7.4, -7.6, -2.4, 2.6, -1.3, -2.0, -3.0, 1.1, -4.5, -6.0, -7.0, -1.5, -2.5, -3.5, -4.0, 0.0, -1.0, 0.0, 1.5, 6.0, 7.0, 7.5, 6.5, 7.5, 5.5, 4.0, 2.0, 4.0, 2.5, 1.5, 0.5, 4.5, 3.0, 2.5, 1.5, 5.0],
  [-3.7, -6.4, -9.6, -4.5, -8.0, -8.5, -2.9, 2.1, -2.5, -4.0, -5.5, -0.2, -5.8, -7.5, -8.5, -3.5, -5.5, -7.5, -9.0, -2.0, -5.5, -7.0, -4.0, 0.0, 0.5, -1.0, -3.0, -0.5, -2.0, -3.5, -6.0, -3.0, -4.5, -5.5, -6.5, -2.0, -4.0, -6.0, -7.5, -3.5],
  [-3.5, -6.1, -9.0, -4.2, -7.5, -7.7, -2.4, 2.5, -1.7, -2.4, -3.3, 0.7, -4.9, -6.4, -7.4, -2.2, -3.2, -4.2, -4.8, -1.2, -2.2, -2.2, -0.5, 3.0, 3.5, 3.0, 2.0, 3.0, 1.0, -0.5, -1.5, 1.5, 0.0, -1.0, -2.0, 1.0, -0.5, -1.5, -2.5, 0.0],
  [-3.3, -5.8, -8.4, -3.8, -6.9, -7.0, -1.9, 3.1, -0.6, -1.2, -2.2, 1.5, -3.8, -5.2, -6.2, 1.0, 0.0, -1.0, -1.5, 3.0, 2.0, 2.0, 3.5, 7.0, 8.5, 8.8, 8.5, 8.7, 7.0, 5.5, 4.0, 7.0, 6.0, 5.0, 4.0, 8.0, 6.5, 6.0, 5.0, 7.5],
  [-3.6, -6.2, -9.2, -4.3, -7.8, -8.0, -2.6, 2.4, -2.3, -3.5, -5.2, -0.4, -5.8, -7.3, -8.3, -3.8, -5.2, -7.0, -8.0, -3.8, -6.5, -9.0, -9.5, -4.0, -3.0, -4.5, -6.0, -2.0, -3.0, -4.0, -5.0, -1.5, -2.5, -3.5, -4.5, -0.5, -2.5, -4.5, -6.0, -2.5],
  [-3.5, -6.1, -8.9, -4.2, -7.5, -7.6, -2.4, 2.6, -1.5, -2.3, -3.2, 0.8, -4.7, -6.2, -7.2, -2.0, -3.0, -4.2, -4.6, -1.0, -1.8, -1.8, 0.0, 3.5, 5.5, 6.0, 5.0, 6.0, 3.5, 2.0, 1.0, 3.5, 1.5, 0.5, -0.5, 2.5, 1.0, 0.0, -1.5, 1.5],
  [-3.4, -6.0, -8.8, -4.1, -7.3, -7.5, -2.3, 2.7, -1.3, -2.2, -3.5, 0.9, -4.8, -6.3, -7.3, -2.3, -3.8, -5.0, -5.5, -1.8, -3.0, -3.0, -1.5, 2.0, 1.5, 0.5, -0.5, 1.0, 0.5, 0.0, -1.0, 3.0, 2.5, 2.0, 1.5, 5.0, 4.0, 3.5, 3.0, 5.5],
  [-3.7, -6.5, -9.7, -4.6, -8.3, -9.0, -3.1, 1.9, -2.7, -4.5, -7.0, -0.6, -6.3, -7.8, -8.8, -4.2, -5.8, -8.0, -9.5, -3.0, -7.5, -9.5, -8.0, -2.0, 0.0, -0.5, -1.5, 0.5, -1.0, -2.5, -4.0, 0.5, -1.0, -2.0, -3.0, 1.0, -1.0, -2.0, -3.0, 0.0],
  [-3.4, -5.9, -8.7, -4.1, -7.3, -7.4, -2.2, 2.8, -1.1, -1.9, -2.9, 1.2, -4.4, -5.9, -6.9, -1.0, -2.5, -3.2, -3.8, 0.5, 0.0, -0.5, 1.0, 5.5, 6.0, 5.5, 4.0, 5.5, 3.5, 2.5, 1.0, 5.0, 3.5, 2.5, 2.0, 4.0, 2.5, 2.0, 1.0, 3.5],
  [-3.5, -6.2, -9.1, -4.3, -7.6, -7.8, -2.5, 2.5, -1.9, -2.8, -4.0, 0.4, -5.2, -6.8, -7.8, -2.8, -4.2, -5.5, -6.0, -2.5, -3.5, -4.0, -2.0, 1.5, 3.0, 2.5, 1.5, 3.5, 1.5, 0.5, -0.5, 4.0, 2.5, 1.5, 0.5, 2.0, 0.5, -0.5, -1.5, 1.0],
  [-3.6, -6.3, -9.4, -4.4, -7.8, -8.3, -2.8, 2.2, -2.1, -3.3, -4.8, 0.1, -5.4, -7.0, -8.0, -3.2, -4.8, -6.5, -7.0, -3.2, -5.0, -6.5, -6.0, -1.5, -3.0, -5.0, -6.5, -3.5, -3.0, -3.5, -4.0, -1.0, -3.0, -5.0, -6.0, -2.5, -4.5, -6.5, -9.0, -4.0],
  [-3.4, -6.0, -8.8, -4.1, -7.3, -7.4, -2.3, 2.7, -1.0, -1.5, -2.5, 1.2, -4.2, -5.7, -6.7, 0.8, -0.8, -1.8, -2.5, 2.0, 1.0, 1.5, 2.5, 6.0, 7.5, 8.0, 7.0, 8.0, 6.0, 5.0, 3.0, 5.5, 4.5, 4.0, 3.0, 6.0, 4.5, 4.5, 4.0, 6.5],
  [-3.5, -6.2, -9.2, -4.3, -7.7, -7.9, -2.5, 2.4, -1.6, -2.6, -3.8, 0.3, -5.2, -6.8, -7.8, -2.0, -4.0, -6.0, -7.0, -1.5, -4.0, -5.5, -3.0, 1.5, 5.0, 6.5, 7.0, 8.0, 6.0, 4.5, 2.5, 4.5, 3.0, 2.0, 1.0, 3.5, 2.0, 1.0, 0.0, 2.0],
  [-3.4, -6.0, -8.9, -4.2, -7.4, -7.6, -2.4, 2.6, -1.4, -2.1, -3.1, 1.0, -4.6, -6.1, -7.1, -1.6, -2.8, -3.8, -4.3, 0.5, -0.5, 0.5, 2.0, 5.0, 4.0, 2.5, 1.0, 2.5, 1.0, 0.0, -2.0, 1.5, 0.0, -1.0, -2.0, 1.0, -1.0, -2.0, -3.0, -1.0],
  [-3.6, -6.3, -9.3, -4.4, -7.7, -8.1, -2.7, 2.3, -2.0, -3.2, -4.5, 0.2, -5.4, -7.0, -8.0, -3.2, -4.6, -6.2, -7.2, -2.5, -4.5, -6.0, -4.5, 0.0, 2.0, 3.5, 4.5, 6.0, 4.5, 3.5, 2.0, 5.5, 4.5, 3.5, 2.5, 6.5, 5.0, 4.0, 3.0, 5.0],
  [-3.5, -6.1, -9.0, -4.2, -7.5, -7.7, -2.4, 2.5, -1.6, -2.4, -3.4, 0.7, -4.9, -6.4, -7.4, -2.2, -3.3, -4.4, -5.0, -1.5, -2.8, -3.0, -1.0, 2.5, 2.0, 1.0, -0.5, 0.5, -1.0, -2.5, -4.5, -1.0, -2.5, -3.5, -4.5, -1.5, -3.5, -5.0, -6.5, -3.0],
  [-3.3, -5.8, -8.5, -3.9, -7.0, -7.1, -2.0, 3.0, -0.9, -1.5, -2.5, 1.3, -4.0, -5.4, -6.4, 0.5, -1.2, -2.2, -2.8, 1.5, 0.0, 1.0, 3.0, 7.0, 8.0, 8.3, 7.8, 8.8, 7.0, 6.5, 5.0, 6.5, 5.0, 4.0, 3.5, 7.0, 5.5, 5.0, 4.5, 6.5],
  [-3.7, -6.5, -9.6, -4.5, -8.1, -8.6, -3.0, 2.0, -2.4, -3.8, -5.5, -0.3, -6.0, -7.6, -8.6, -3.8, -5.6, -7.8, -9.2, -3.5, -6.8, -8.0, -5.5, -1.0, -2.0, -3.5, -4.5, -2.0, -3.5, -5.0, -7.5, -3.5, -4.5, -5.0, -6.0, -2.5, -4.0, -5.5, -7.0, -3.0],
  [-3.4, -6.0, -8.8, -4.1, -7.3, -7.5, -2.3, 2.6, -1.2, -1.9, -2.9, 1.0, -4.5, -6.0, -7.0, -1.2, -2.2, -3.2, -3.6, 0.0, -1.2, -1.0, 0.5, 4.5, 6.0, 6.0, 5.0, 6.5, 4.5, 3.0, 1.5, 2.5, 1.5, 0.5, 0.0, 2.0, 0.5, 0.0, -1.0, 1.0],
  [-3.6, -6.2, -9.2, -4.3, -7.8, -8.0, -2.6, 2.4, -2.0, -3.0, -4.2, 0.3, -5.3, -6.8, -7.8, -2.8, -4.0, -5.3, -6.2, -2.2, -3.8, -4.5, -2.5, 1.0, 1.5, 1.0, 0.0, 1.0, -0.5, -1.5, -3.5, 0.5, -0.5, -1.5, -3.0, 0.0, -1.5, -2.5, -4.0, -1.5],
  [-3.5, -6.1, -9.0, -4.2, -7.6, -7.8, -2.5, 2.5, -1.8, -2.7, -3.8, 0.4, -5.1, -6.6, -7.6, -2.6, -3.8, -5.0, -5.5, -1.5, -3.0, -3.5, -1.5, 3.0, 4.0, 4.5, 4.0, 5.0, 3.5, 2.5, 0.5, 3.0, 2.0, 1.0, 0.0, 2.5, 1.5, 1.5, 1.0, 3.0],
  [-3.4, -5.9, -8.6, -4.0, -7.2, -7.3, -2.2, 2.8, -1.1, -1.7, -2.7, 1.1, -4.4, -5.8, -6.8, -0.8, -2.0, -3.0, -3.2, 1.0, 0.0, 0.5, 2.0, 6.0, 7.0, 7.0, 6.5, 7.0, 5.5, 4.5, 3.0, 4.5, 3.5, 2.5, 1.5, 4.0, 3.0, 2.0, 1.0, 3.5],
  [-3.6, -6.4, -9.5, -4.5, -8.0, -8.4, -2.9, 2.1, -2.4, -3.6, -5.0, -0.2, -5.6, -7.2, -8.2, -3.4, -5.0, -6.8, -8.0, -3.0, -5.5, -7.0, -4.5, 0.5, 1.0, 0.0, -1.5, 0.5, -1.5, -3.0, -5.0, -1.5, -3.0, -4.0, -5.0, -1.0, -2.5, -3.5, -5.0, -2.0],
  [-3.5, -6.1, -9.0, -4.2, -7.5, -7.7, -2.5, 2.5, -1.5, -2.3, -3.3, 0.7, -4.8, -6.3, -7.3, -2.1, -3.0, -4.0, -4.5, -0.5, -2.0, -2.5, -0.5, 3.5, 5.0, 5.0, 4.0, 5.5, 3.0, 1.5, -0.5, 3.5, 2.5, 1.5, 0.5, 4.5, 3.5, 3.0, 2.0, 4.5],
];

// ---------------- styling ----------------
const FONT = '"DejaVu Sans", "Liberation Sans", Arial, sans-serif';
const TEXT = "#4b5331";
const BLUE_TEXT = "#2a2aea";
const MEMBER = "#94bb6e";
const OPER_C = "#e8121c";
const CONTROL_C = "#2d3cf2";
const ENS_RED = "#c8402a";
const ENS_GREEN = "#4f6b2e";

type PanelCfg = {
  top: number;
  plotTop: number;
  yMin: number;
  yMax: number;
  ticks: number[];
  unit: string;
  unitLen: number;
  station: string[];
  members: number[][];
  ensgem: number[];
  control: number[];
  oper: number[];
  zeroLine: boolean;
  mos: boolean;
  last: boolean;
};

function fitText(ctx: CanvasRenderingContext2D, text: string, x: number, y: number, w: number, align: string, font: string, color: string, baseline: CanvasTextBaseline = "middle") {
  ctx.save();
  ctx.font = font;
  ctx.fillStyle = color;
  ctx.textBaseline = baseline;
  ctx.textAlign = "left";
  const m = ctx.measureText(text).width || 1;
  const s = w / m;
  const x0 = align === "left" ? x : align === "center" ? x - w / 2 : x - w;
  ctx.translate(x0, y);
  ctx.scale(s, 1);
  ctx.fillText(text, 0, 0);
  ctx.restore();
}

function seg(ctx: CanvasRenderingContext2D, x1: number, y1: number, x2: number, y2: number) {
  ctx.beginPath();
  ctx.moveTo(x1, y1);
  ctx.lineTo(x2, y2);
  ctx.stroke();
}

function makePlugin(cfg: PanelCfg) {
  return {
    id: "panelDecor",
    beforeDraw(chart: any) {
      const ctx: CanvasRenderingContext2D = chart.ctx;
      ctx.save();
      ctx.strokeStyle = "#3b3bf2";
      ctx.lineWidth = 1;
      ctx.setLineDash([1, 1]);
      seg(ctx, 20, 0.5, 575, 0.5);
      seg(ctx, 574.5, 0, 574.5, chart.height);
      ctx.setLineDash([]);
      ctx.strokeStyle = "#b3bcae";
      ctx.lineWidth = 2;
      seg(ctx, 21, 0, 21, chart.height);
      if (cfg.last) seg(ctx, 20, 264, 575, 264);
      ctx.restore();
    },
    beforeDatasetsDraw(chart: any) {
      const ctx: CanvasRenderingContext2D = chart.ctx;
      const { left, right, top, bottom } = chart.chartArea;
      const ys = chart.scales.y;
      const xs = chart.scales.x;
      ctx.save();
      ctx.strokeStyle = "#a9b1a2";
      ctx.lineWidth = 1;
      ctx.setLineDash([3, 2]);
      seg(ctx, left, top + 0.5, right, top + 0.5);
      ctx.setLineDash([]);
      ctx.strokeStyle = TEXT;
      seg(ctx, left + 0.5, top, left + 0.5, bottom + 1);
      seg(ctx, right + 0.5, top, right + 0.5, bottom + 1);
      seg(ctx, left, bottom + 0.5, right + 1, bottom + 0.5);
      for (let v = cfg.yMin; v <= cfg.yMax + 1e-6; v += 2.5) {
        const y = Math.round(ys.getPixelForValue(v)) + 0.5;
        const major = Math.abs(v % 5) < 1e-6;
        const len = major ? 4 : 2;
        seg(ctx, left - len, y, left, y);
        seg(ctx, right + 1, y, right + 1 + len, y);
      }
      for (let h = 0; h <= 240; h += 3) {
        const x = Math.round(xs.getPixelForValue(h)) + 0.5;
        const len = h % 12 === 0 ? 3 : 2;
        seg(ctx, x, bottom + 1, x, bottom + 1 + len);
      }
      ctx.restore();
    },
    beforeDatasetDraw(chart: any, args: any) {
      if (!cfg.zeroLine || args.index !== 3) return;
      const ctx: CanvasRenderingContext2D = chart.ctx;
      const { left, right } = chart.chartArea;
      const y = chart.scales.y.getPixelForValue(0);
      ctx.save();
      ctx.strokeStyle = "#59613f";
      ctx.lineWidth = 2;
      seg(ctx, left, y, right, y);
      ctx.restore();
    },
    afterDatasetsDraw(chart: any) {
      const ctx: CanvasRenderingContext2D = chart.ctx;
      const { left, right, top, bottom } = chart.chartArea;
      const ys = chart.scales.y;
      const xs = chart.scales.x;
      ctx.save();
      ctx.font = `bold 12px ${FONT}`;
      ctx.fillStyle = TEXT;
      ctx.textBaseline = "middle";
      for (const v of cfg.ticks) {
        const y = ys.getPixelForValue(v);
        ctx.textAlign = "right";
        ctx.fillText(String(v), left - 5, y);
        ctx.textAlign = "left";
        ctx.fillText(String(v), right + 6, y);
      }
      DAY_NAMES.forEach((name, i) => {
        const x = xs.getPixelForValue(i * 24);
        ctx.font = `bold 11px ${FONT}`;
        ctx.textAlign = "center";
        ctx.fillStyle = TEXT;
        ctx.fillText(name, x, bottom + 11);
        if (i < DAY_NAMES.length - 1) {
          const x2 = xs.getPixelForValue(i * 24 + 12);
          fitText(ctx, "00", x2, bottom + 9, 7, "center", `bold 6px ${FONT}`, TEXT);
        }
        fitText(ctx, "12", x, bottom + 26, 7, "center", `bold 6px ${FONT}`, TEXT);
      });
      fitText(ctx, X_TITLE, (left + right) / 2 + 1, bottom + 30, 31, "center", `bold 18px ${FONT}`, TEXT, "alphabetic");
      fitText(ctx, SOURCE, 460, bottom + 33, 97, "left", `bold 9px ${FONT}`, BLUE_TEXT);
      const tp: [string, number, number][] = [
        [TITLE_PARTS[0], 120, 160],
        [TITLE_PARTS[1], 296, 46],
        [TITLE_PARTS[2], 358, 57],
        [TITLE_PARTS[3], 427, 28],
      ];
      for (const [t, x, w] of tp) fitText(ctx, t, x, 13, w, "left", `bold 11px ${FONT}`, TEXT);
      const cy = (top + bottom) / 2;
      for (const cx of [47, 545]) {
        ctx.save();
        ctx.translate(cx, cy);
        ctx.rotate(-Math.PI / 2);
        fitText(ctx, cfg.unit, 0, 0, cfg.unitLen, "center", `bold 17px ${FONT}`, TEXT);
        ctx.restore();
      }
      ctx.font = `10px ${FONT}`;
      ctx.fillStyle = TEXT;
      ctx.textAlign = "center";
      ctx.textBaseline = "middle";
      ctx.fillText(cfg.station[0], 461, top + 13);
      ctx.fillText(cfg.station[1], 461, top + 27);
      const rows = cfg.mos ? [13, 24.5, 35.5, 47] : [18.5, 30, 41.5];
      ctx.strokeStyle = "#66705a";
      ctx.lineWidth = 1;
      ctx.setLineDash([1, 1]);
      ctx.strokeRect(left + 0.5, top + 0.5, 105, 60);
      ctx.lineWidth = 2.5;
      ctx.setLineDash([2, 4]);
      ctx.strokeStyle = ENS_RED;
      seg(ctx, 80, top + rows[0], 112, top + rows[0]);
      ctx.lineDashOffset = 3;
      ctx.strokeStyle = ENS_GREEN;
      seg(ctx, 80, top + rows[0], 112, top + rows[0]);
      ctx.lineDashOffset = 0;
      ctx.lineWidth = 3;
      ctx.setLineDash([8, 4]);
      ctx.strokeStyle = CONTROL_C;
      seg(ctx, 80, top + rows[1], 112, top + rows[1]);
      ctx.setLineDash([]);
      ctx.strokeStyle = OPER_C;
      seg(ctx, 80, top + rows[2], 112, top + rows[2]);
      const lw = [40, 37, 23];
      LEGEND_LABELS.forEach((lab, i) => {
        fitText(ctx, lab, 146.5, top + rows[i], lw[i], "center", `bold 10px ${FONT}`, BLUE_TEXT);
      });
      if (cfg.mos) {
        ctx.fillStyle = "#56653a";
        ctx.beginPath();
        ctx.arc(97, top + rows[3], 3, 0, Math.PI * 2);
        ctx.fill();
        ctx.fillStyle = "#c83a2a";
        ctx.beginPath();
        ctx.arc(97, top + rows[3], 1.2, 0, Math.PI * 2);
        ctx.fill();
        fitText(ctx, MOS_LABEL, 145.5, top + rows[3], 50, "center", `bold 10px ${FONT}`, BLUE_TEXT);
      }
      ctx.restore();
    },
  };
}

function toXY(arr: number[]) {
  return HOURS.map((h, i) => ({ x: h, y: arr[i] }));
}

function Panel({ cfg }: { cfg: PanelCfg }) {
  const ref = useRef<HTMLCanvasElement>(null);
  useEffect(() => {
    const canvas = ref.current;
    if (!canvas) return;
    const datasets: any[] = [
      { data: toXY(cfg.oper), borderColor: OPER_C, borderWidth: 3 },
      { data: toXY(cfg.control), borderColor: CONTROL_C, borderWidth: 3, borderDash: [8, 4] },
      { data: toXY(cfg.ensgem), borderColor: ENS_RED, borderWidth: 2.5, borderDash: [2, 4] },
      { data: toXY(cfg.ensgem), borderColor: ENS_GREEN, borderWidth: 2.5, borderDash: [2, 4], borderDashOffset: 3 },
      ...cfg.members.map((m) => ({ data: toXY(m), borderColor: MEMBER, borderWidth: 1 })),
    ];
    const chart = new Chart(canvas, {
      type: "line",
      data: { datasets },
      options: {
        animation: false,
        responsive: false,
        events: [],
        layout: { padding: { left: 77, right: 129, top: cfg.plotTop, bottom: 40 } },
        elements: { point: { radius: 0 }, line: { tension: 0, fill: false } },
        scales: {
          x: { type: "linear", min: 0, max: 240, display: false },
          y: { type: "linear", min: cfg.yMin, max: cfg.yMax, display: false },
        },
        plugins: { legend: { display: false }, tooltip: { enabled: false }, title: { display: false } },
      } as any,
      plugins: [makePlugin(cfg) as any],
    });
    return () => chart.destroy();
  }, [cfg]);
  return (
    <canvas
      ref={ref}
      width={640}
      height={265}
      style={{ position: "absolute", left: 0, top: cfg.top, width: 640, height: 265 }}
    />
  );
}

const PANELS: PanelCfg[] = [
  {
    top: 62, plotTop: 25, yMin: 0, yMax: 15, ticks: PRECIP_TICKS, unit: "mm", unitLen: 27,
    station: ["De Bilt", "Neerslag"], members: PRECIP_MEMBERS, ensgem: PRECIP_ENSGEM,
    control: PRECIP_CONTROL, oper: PRECIP_OPER, zeroLine: false, mos: false, last: false,
  },
  {
    top: 327, plotTop: 26, yMin: 0, yMax: 25, ticks: WIND_TICKS, unit: "m/s", unitLen: 30,
    station: ["De Bilt", "10m wind"], members: WIND_MEMBERS, ensgem: WIND_ENSGEM,
    control: WIND_CONTROL, oper: WIND_OPER, zeroLine: false, mos: false, last: false,
  },
  {
    top: 591, plotTop: 26, yMin: -15, yMax: 15, ticks: T2M_TICKS, unit: "Celsius", unitLen: 66,
    station: ["De Bilt", "T2m"], members: T2M_MEMBERS, ensgem: T2M_ENSGEM,
    control: T2M_CONTROL, oper: T2M_OPER, zeroLine: true, mos: true, last: true,
  },
];

export default function App() {
  return (
    <div style={{ position: "absolute", left: 0, top: 0, width: 640, height: 880, background: "#ffffff", overflow: "hidden" }}>
      {PANELS.map((p, i) => (
        <Panel key={i} cfg={p} />
      ))}
    </div>
  );
}
